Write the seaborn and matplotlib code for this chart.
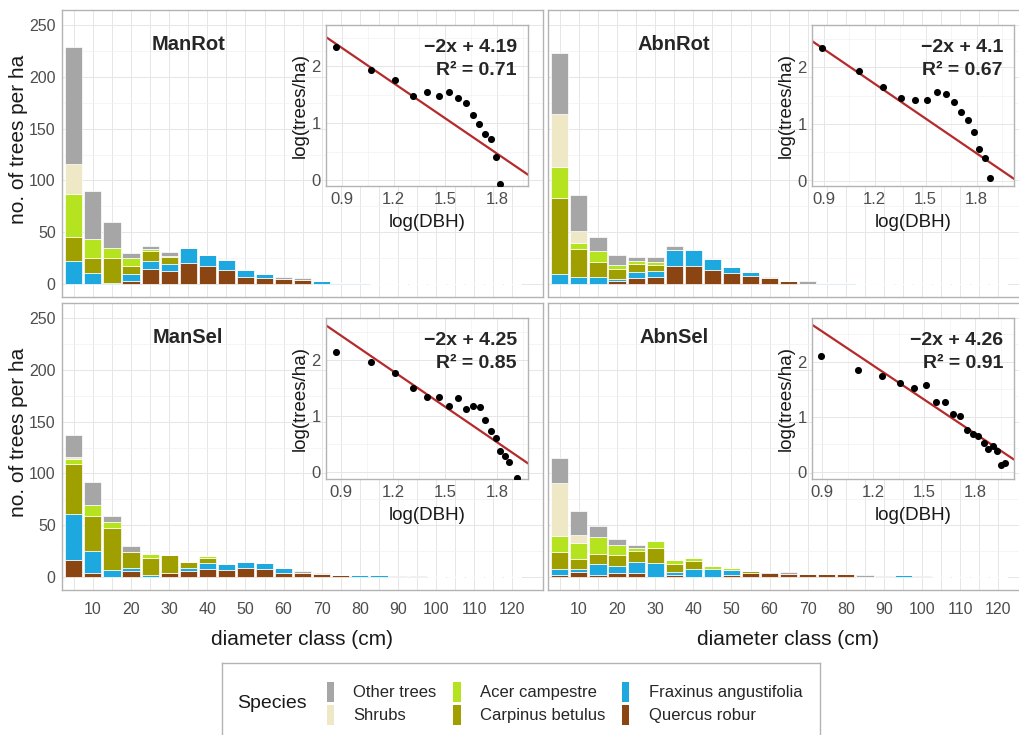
import numpy as np
import pandas as pd
import matplotlib
matplotlib.use('Agg')
import matplotlib.pyplot as plt
from matplotlib.patches import Patch
import seaborn as sns

sns.set_style('white')
plt.rcParams['font.family'] = ['Liberation Sans', 'DejaVu Sans']

# diameter classes (cm), 5 cm steps
classes = list(range(5, 125, 5))

species = ['Other trees', 'Shrubs', 'Acer campestre', 'Carpinus betulus',
           'Fraxinus angustifolia', 'Quercus robur']
colors = ['#a6a6a6', '#eee8c6', '#b5e31f', '#9fa000', '#1ea8e0', '#8b4513']

stands = ['ManRot', 'AbnRot', 'ManSel', 'AbnSel']

# trees per ha by diameter class (lists start at class 5, missing tail = 0)
manrot_other = [113, 46.5, 25, 4.5, 3, 3, 0, 0, 0, 0, 0, 1.5, 1.5]
manrot_shrubs = [29]
manrot_acer = [42, 18, 10, 8, 2, 1.5]
manrot_carpinus = [22.5, 14.5, 24, 8, 9, 6.5]
manrot_fraxinus = [22.5, 11, 0.5, 7, 7.5, 6.5, 15, 11, 9.5, 7, 4, 0, 0, 2.5, 0.9, 0.6]
manrot_quercus = [0, 0, 0.5, 2.5, 15, 13, 20, 17, 13.5, 7, 6, 5, 4]

abnrot_other = [58.5, 34.5, 13.5, 9.7, 4, 5.5, 3.5, 0, 0, 0, 0, 1, 0.8, 2.5]
abnrot_shrubs = [51.6, 12]
abnrot_acer = [30, 5.5, 11, 4, 3, 3]
abnrot_carpinus = [73, 27, 14, 9, 8, 5.5]
abnrot_fraxinus = [9.7, 7, 7, 2.3, 6, 6, 16, 16, 9.7, 5, 3.5, 0, 0, 0, 1.1, 0.6]
abnrot_quercus = [0, 0, 0, 3, 5.5, 6.5, 17, 17, 14, 11, 7.7, 5.5, 2.5]

mansel_other = [21, 21.5, 5.5, 5.5, 0, 0, 0, 0, 0, 0, 0, 0, 1.4, 1.4, 0, 0, 0,
                0.8, 0.6, 0.5, 0.5]
mansel_shrubs = [2.6]
mansel_acer = [4.5, 10.6, 6.4, 0, 4, 0, 0, 1.6]
mansel_carpinus = [48, 34.4, 40, 16, 16, 17.4, 6, 4.8]
mansel_fraxinus = [45, 21, 7, 3, 2, 0, 3, 5.8, 5.8, 5.5, 6, 4.8, 0, 0, 0, 1.9, 1.5]
mansel_quercus = [16, 4, 0, 5.5, 0, 4, 5.5, 7.7, 7, 8.7, 7.7, 3.9, 4, 2.5, 2.4]

abnsel_other = [24, 23.5, 11, 5.5, 3, 0, 0, 0, 0, 0, 0, 0, 1.4, 0, 0, 0, 2.4,
                1.3, 0, 0.6, 0.5, 0.5, 0, 0.4]
abnsel_shrubs = [51.5, 8, 0, 0, 0, 0, 0, 0, 0, 0, 0, 0, 0, 0, 0, 0, 0, 0, 0, 0,
                 0, 0, 0.4]
abnsel_acer = [15, 15.4, 16.7, 10, 3, 7.4, 4.5, 3, 2.6, 2.2]
abnsel_carpinus = [17, 9.7, 9, 11, 10.6, 13.8, 7.4, 7.4, 0, 0, 1.5]
abnsel_fraxinus = [5.5, 3, 11, 6.4, 10.3, 14, 3, 7.7, 7.7, 4.8, 0, 1.2, 0, 0, 0,
                   0, 0, 0, 1.5]
abnsel_quercus = [2, 4.5, 2, 4, 4, 0, 2, 0, 0, 2.2, 4, 3.5, 3, 3.3, 2.5, 2.9]

# inset: log10(DBH) vs log10(trees/ha)
manrot_logd = [0.865, 1.070, 1.208, 1.313, 1.394, 1.462, 1.524, 1.574, 1.621,
               1.659, 1.698, 1.733, 1.764, 1.795, 1.820]
manrot_logn = [2.34, 1.93, 1.76, 1.47, 1.55, 1.47, 1.55, 1.44, 1.36, 1.14,
               0.99, 0.81, 0.73, 0.40, -0.07]
abnrot_logd = [0.892, 1.106, 1.250, 1.354, 1.437, 1.507, 1.568, 1.619, 1.668,
               1.710, 1.747, 1.784, 1.816, 1.849, 1.877]
abnrot_logn = [2.34, 1.93, 1.66, 1.46, 1.42, 1.43, 1.57, 1.53, 1.39, 1.22,
               1.07, 0.85, 0.55, 0.40, 0.04]
mansel_logd = [0.869, 1.073, 1.212, 1.318, 1.395, 1.465, 1.524, 1.574, 1.623,
               1.661, 1.700, 1.732, 1.763, 1.794, 1.819, 1.848, 1.869, 1.916]
mansel_logn = [2.15, 1.97, 1.78, 1.50, 1.35, 1.34, 1.19, 1.32, 1.13, 1.19,
               1.16, 0.94, 0.74, 0.60, 0.38, 0.28, 0.17, -0.11]
abnsel_logd = [0.896, 1.111, 1.252, 1.356, 1.438, 1.509, 1.569, 1.620, 1.669,
               1.710, 1.751, 1.785, 1.816, 1.849, 1.875, 1.904, 1.926, 1.951, 1.971]
abnsel_logn = [2.10, 1.84, 1.73, 1.61, 1.52, 1.58, 1.27, 1.27, 1.05, 1.01,
               0.76, 0.68, 0.65, 0.52, 0.41, 0.47, 0.38, 0.12, 0.17]

# fitted lines as drawn, and the labels printed in the insets
line_slope = [-2.07, -2.05, -2.12, -2.06]
line_intercept = [4.19, 4.17, 4.35, 4.40]
label_slope = [-2, -2, -2, -2]
label_intercept = [4.19, 4.1, 4.25, 4.26]
label_r2 = [0.71, 0.67, 0.85, 0.91]

inset_xlim = [(0.809, 1.98), (0.832, 2.02), (0.813, 1.98), (0.841, 2.027)]
inset_ylim = [(-0.11, 2.72), (-0.10, 2.74), (-0.13, 2.75), (-0.13, 2.78)]


def pad(values):
    return list(values) + [0] * (len(classes) - len(values))


stand_data = {
    'ManRot': [manrot_other, manrot_shrubs, manrot_acer, manrot_carpinus,
               manrot_fraxinus, manrot_quercus],
    'AbnRot': [abnrot_other, abnrot_shrubs, abnrot_acer, abnrot_carpinus,
               abnrot_fraxinus, abnrot_quercus],
    'ManSel': [mansel_other, mansel_shrubs, mansel_acer, mansel_carpinus,
               mansel_fraxinus, mansel_quercus],
    'AbnSel': [abnsel_other, abnsel_shrubs, abnsel_acer, abnsel_carpinus,
               abnsel_fraxinus, abnsel_quercus],
}
inset_data = {
    'ManRot': (manrot_logd, manrot_logn),
    'AbnRot': (abnrot_logd, abnrot_logn),
    'ManSel': (mansel_logd, mansel_logn),
    'AbnSel': (abnsel_logd, abnsel_logn),
}

rows = []
for stand, lists in stand_data.items():
    for sp, vals in zip(species, lists):
        for dbh, n in zip(classes, pad(vals)):
            rows.append({'stand': stand, 'species': sp, 'dbh': dbh, 'n': n})
df = pd.DataFrame(rows)

W, H = 1020, 735
fig = plt.figure(figsize=(W / 100, H / 100), dpi=100)


def px_rect(x0, y0, w, h):
    return [x0 / W, 1 - (y0 + h) / H, w / W, h / H]


border = '#b3b3b3'
panel_left = [62, 548]
panel_top = [10, 303]

for i, stand in enumerate(stands):
    row, col = divmod(i, 2)
    ax = fig.add_axes(px_rect(panel_left[col], panel_top[row], 481, 287))
    sub = df[df['stand'] == stand].reset_index(drop=True)
    sns.histplot(data=sub, x='dbh', weights='n', hue='species',
                 hue_order=species, palette=colors, multiple='stack',
                 binwidth=5, binrange=(2.5, 122.5), shrink=0.9, alpha=1,
                 edgecolor='white', linewidth=0.5, legend=False, ax=ax)
    ax.set_xlim(1.9, 128)
    ax.set_ylim(-12.5, 264.5)
    ax.set_axisbelow(True)

    xt = np.arange(5, 125, 5)
    ax.set_xticks(xt)
    ax.set_xticklabels([str(v) if (v % 10 == 0 and row == 1) else '' for v in xt])
    ax.set_yticks(np.arange(0, 251, 50))
    ax.set_yticks(np.arange(25, 250, 50), minor=True)
    ax.grid(True, which='major', color='#e6e6e6', lw=0.7)
    ax.grid(True, which='minor', axis='y', color='#f2f2f2', lw=0.5)
    ax.tick_params(which='major', length=3, color=border, labelsize=11.5,
                   labelcolor='#4d4d4d', pad=1.5, labelleft=(col == 0))
    ax.tick_params(axis='x', which='major', pad=6)
    ax.tick_params(which='minor', length=0)
    for s in ax.spines.values():
        s.set_color(border)
        s.set_linewidth(1)

    ax.set_ylabel('no. of trees per ha' if col == 0 else '', fontsize=15,
                  color='#1a1a1a')
    ax.yaxis.set_label_coords(-0.071, 0.55)
    ax.set_xlabel('diameter class (cm)' if row == 1 else '', fontsize=15,
                  color='#1a1a1a', labelpad=9)
    ax.text(0.262, 0.88, stand, transform=ax.transAxes, ha='center',
            va='center', fontsize=14.5, fontweight='bold')

    # inset with log-log size distribution
    inax = ax.inset_axes([0.549, 0.386, 0.42, 0.56])
    inax.set_facecolor('white')
    logd, logn = inset_data[stand]
    inax.axline((0, line_intercept[i]), slope=line_slope[i], color='#b52a2a',
                lw=1.6, zorder=2)
    sns.scatterplot(x=logd, y=logn, color='black', s=26, linewidth=0,
                    ax=inax, zorder=3)
    inax.set_xlim(*inset_xlim[i])
    inax.set_ylim(*inset_ylim[i])
    inax.set_axisbelow(True)
    inax.set_xticks([0.9, 1.2, 1.5, 1.8])
    inax.set_xticks([1.05, 1.35, 1.65, 1.95], minor=True)
    inax.set_yticks([0, 1, 2])
    inax.set_yticks([0.5, 1.5, 2.5], minor=True)
    inax.grid(True, which='major', color='#e6e6e6', lw=0.7)
    inax.grid(True, which='minor', color='#f2f2f2', lw=0.5)
    inax.tick_params(which='major', length=2.5, color=border, labelsize=12,
                     labelcolor='#4d4d4d', pad=1.5)
    inax.tick_params(which='minor', length=0)
    for s in inax.spines.values():
        s.set_color(border)
        s.set_linewidth(1)
    inax.set_xlabel('log(DBH)', fontsize=13.5, color='#1a1a1a', labelpad=5)
    inax.set_ylabel('log(trees/ha)', fontsize=13.5, color='#1a1a1a', labelpad=2)
    inax.text(0.945, 0.865, f'\u2212{abs(label_slope[i])}x + {label_intercept[i]}',
              transform=inax.transAxes, ha='right', va='center',
              fontsize=14, fontweight='bold')
    inax.text(0.945, 0.72, f'R\u00b2 = {label_r2[i]:.2f}',
              transform=inax.transAxes, ha='right', va='center',
              fontsize=14, fontweight='bold')

# legend box
lax = fig.add_axes(px_rect(222, 663, 598, 76))
lax.set_xticks([])
lax.set_yticks([])
lax.set_facecolor('white')
for s in lax.spines.values():
    s.set_color(border)
    s.set_linewidth(1)
lax.text(0.025, 0.47, 'Species', transform=lax.transAxes, fontsize=14,
         va='center', ha='left', color='#1a1a1a')
handles = [Patch(facecolor=c, edgecolor='none', label=s)
           for s, c in zip(species, colors)]
lax.legend(handles=handles, ncol=3, frameon=False, loc='center left',
           bbox_to_anchor=(0.175, 0.47), fontsize=12, handlelength=0.45,
           handleheight=1.5, handletextpad=1.15, columnspacing=1.0,
           labelspacing=0.15, borderpad=0, borderaxespad=0)

fig.savefig('out.png', dpi=100)
